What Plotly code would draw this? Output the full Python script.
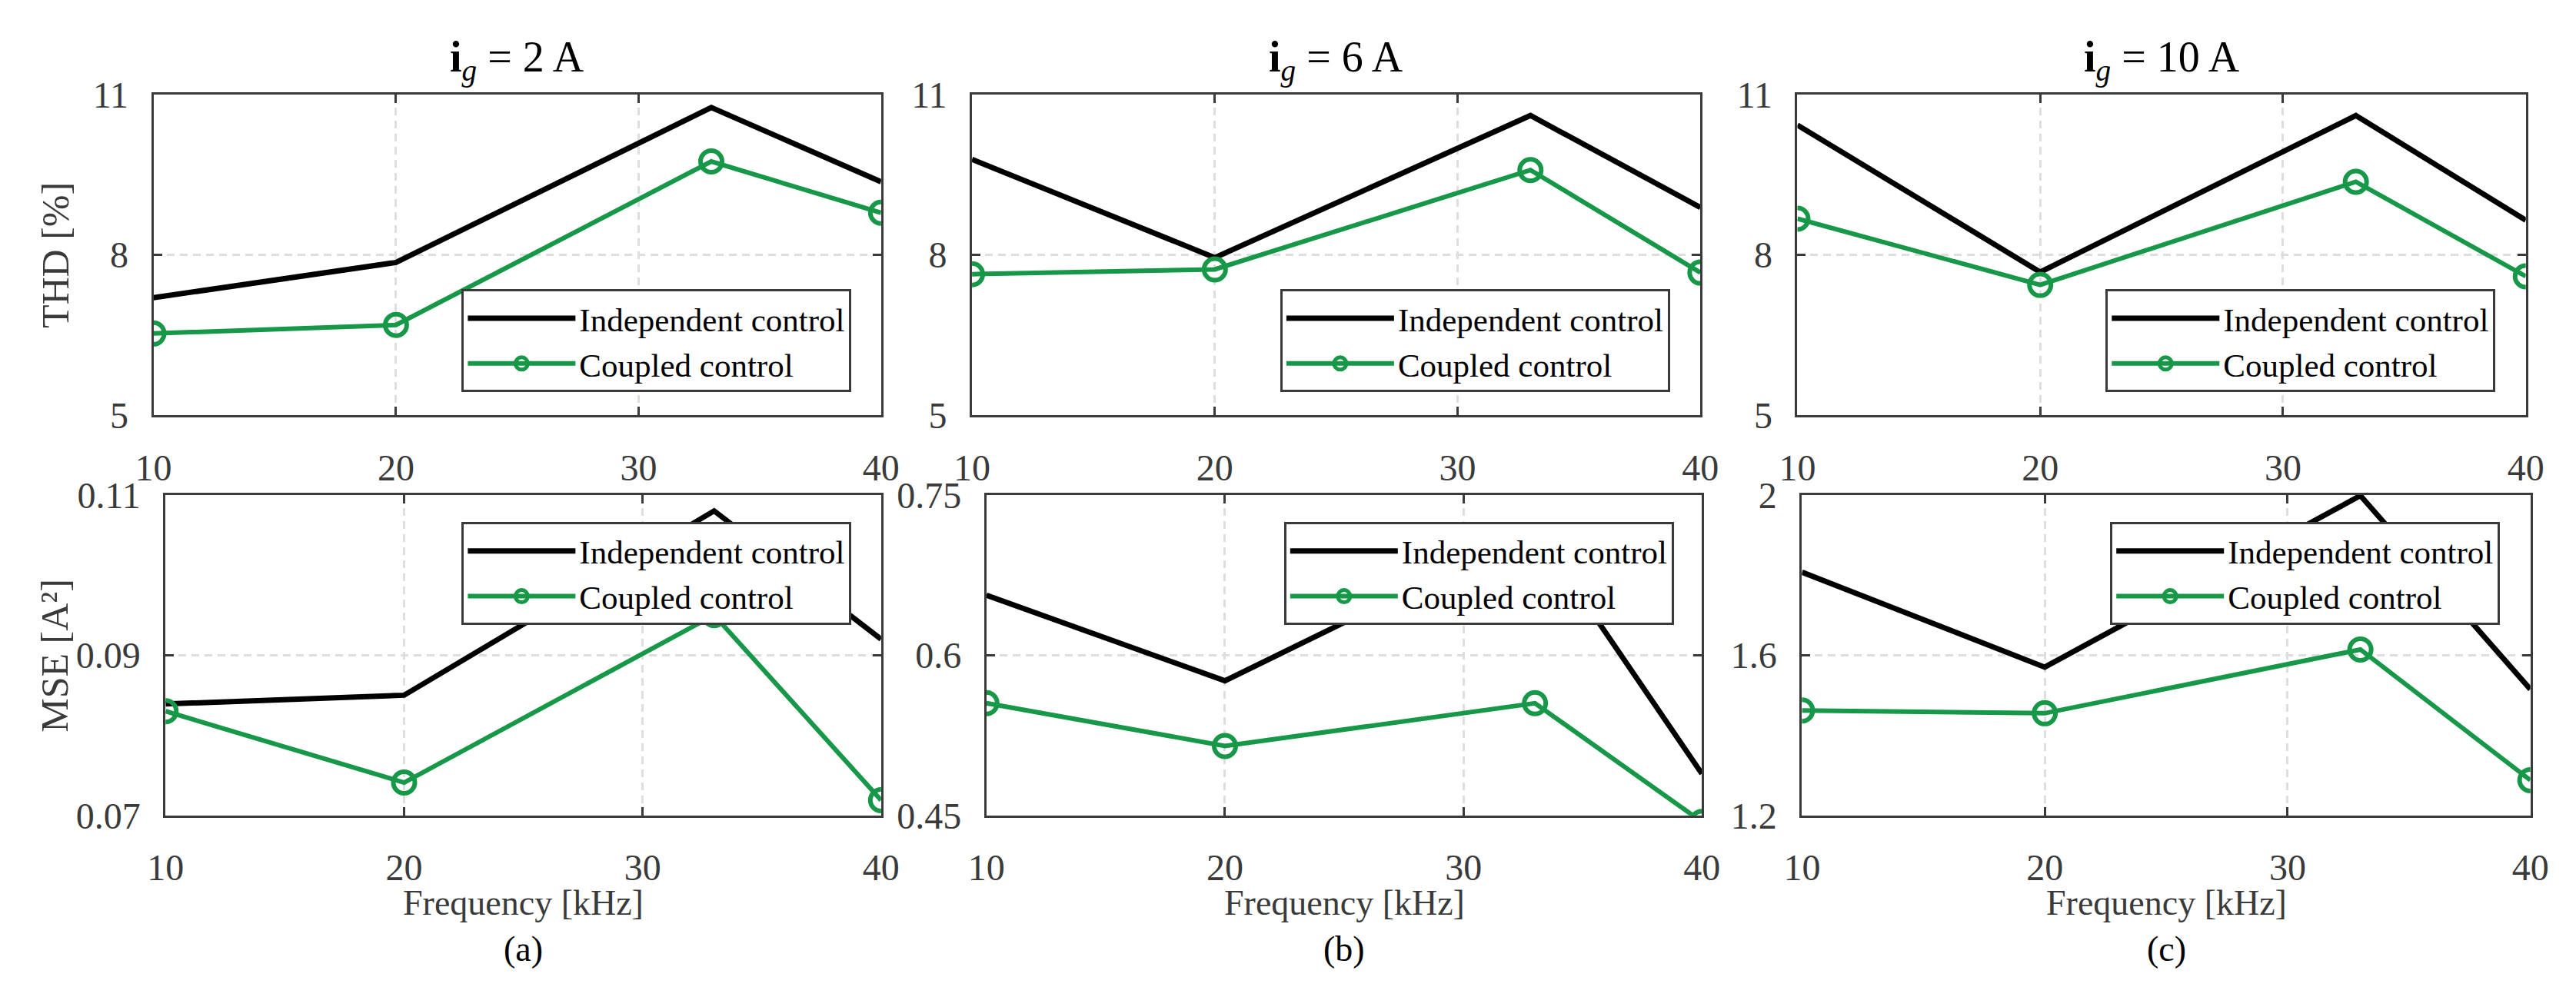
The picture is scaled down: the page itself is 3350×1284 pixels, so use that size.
import plotly.graph_objects as go

# ---------------- data ----------------
freq = [10, 20, 33, 40]
x_ticks = [10, 20, 30, 40]

thd_indep_2A = [7.20, 7.86, 10.76, 9.37]
thd_coup_2A = [6.53, 6.69, 9.75, 8.79]
thd_indep_6A = [9.79, 7.95, 10.61, 8.89]
thd_coup_6A = [7.64, 7.73, 9.59, 7.67]
thd_indep_10A = [10.43, 7.68, 10.61, 8.65]
thd_coup_10A = [8.68, 7.44, 9.37, 7.60]

mse_indep_2A = [0.0839, 0.0850, 0.1080, 0.0920]
mse_coup_2A = [0.0830, 0.0741, 0.0950, 0.0719]
mse_indep_6A = [0.656, 0.576, 0.718, 0.489]
mse_coup_6A = [0.555, 0.515, 0.555, 0.444]
mse_indep_10A = [1.807, 1.570, 1.998, 1.515]
mse_coup_10A = [1.462, 1.455, 1.614, 1.288]

thd_ticks = [5, 8, 11]
mse_ticks_2A = [0.07, 0.09, 0.11]
mse_ticks_6A = [0.45, 0.6, 0.75]
mse_ticks_10A = [1.2, 1.6, 2]

currents = ["2", "6", "10"]
panel_labels = ["(a)", "(b)", "(c)"]
series_names = ["Independent control", "Coupled control"]
ylabels = ["THD [%]", "MSE [A²]"]
xlabel = "Frequency [kHz]"

# ---------------- style ----------------
W, H = 3350, 1284
FONT = "Liberation Serif, Times New Roman, serif"
BLACK = "#000000"
GREEN = "#179848"
AXC = "#3a3a3a"
TXT = "#3a3a3a"
GRID = "#dedede"

top_y = [1 - 528 / H, 1 - 93 / H]
bot_y = [1 - 1071 / H, 1 - 636 / H]
x_doms_top = [[170 / W, 1130 / W], [1250 / W, 2211 / W], [2339 / W, 3300 / W]]
x_doms_bot = [[186 / W, 1130 / W], [1269 / W, 2213 / W], [2345 / W, 3306 / W]]

panels = [
    (0, 0, thd_indep_2A, thd_coup_2A, thd_ticks),
    (0, 1, thd_indep_6A, thd_coup_6A, thd_ticks),
    (0, 2, thd_indep_10A, thd_coup_10A, thd_ticks),
    (1, 0, mse_indep_2A, mse_coup_2A, mse_ticks_2A),
    (1, 1, mse_indep_6A, mse_coup_6A, mse_ticks_6A),
    (1, 2, mse_indep_10A, mse_coup_10A, mse_ticks_10A),
]

legend_pos_top = [(1091 / W, 1 - 497 / H), (2171 / W, 1 - 497 / H), (3260 / W, 1 - 497 / H)]
legend_pos_bot = [(1091 / W, 1 - 673 / H), (2176 / W, 1 - 673 / H), (3266 / W, 1 - 673 / H)]

fig = go.Figure()
layout = dict(
    width=W, height=H,
    margin=dict(l=0, r=0, t=0, b=0),
    paper_bgcolor="white", plot_bgcolor="white",
    font=dict(family=FONT, color=TXT, size=46),
    showlegend=True,
)

annotations = []

for i, (row, col, indep, coup, yt) in enumerate(panels):
    k = i + 1
    xs = "" if k == 1 else str(k)
    xref, yref = "x" + xs, "y" + xs
    legname = "legend" + xs
    fig.add_trace(go.Scatter(
        x=freq, y=indep, mode="lines", name=series_names[0],
        line=dict(color=BLACK, width=7),
        xaxis=xref, yaxis=yref, legend=legname, showlegend=True,
    ))
    fig.add_trace(go.Scatter(
        x=freq, y=coup, mode="lines+markers", name=series_names[1],
        line=dict(color=GREEN, width=6),
        marker=dict(symbol="circle-open", size=28, color=GREEN, line=dict(width=6, color=GREEN)),
        xaxis=xref, yaxis=yref, legend=legname, showlegend=True,
    ))
    xd = x_doms_top[col] if row == 0 else x_doms_bot[col]
    yd = top_y if row == 0 else bot_y
    common = dict(
        showline=True, linecolor=AXC, linewidth=3, mirror="ticks",
        ticks="inside", ticklen=11, tickwidth=3, tickcolor=AXC,
        showgrid=True, gridcolor=GRID, gridwidth=3, griddash="10px,7px",
        zeroline=False,
        tickfont=dict(family=FONT, size=48, color=TXT),
    )
    layout["xaxis" + xs] = dict(
        domain=xd, anchor=yref, range=[10, 40],
        tickmode="array", tickvals=x_ticks, ticktext=[str(v) for v in x_ticks],
        ticklabelstandoff=24, **common,
    )
    layout["yaxis" + xs] = dict(
        domain=yd, anchor=xref, range=[yt[0], yt[-1]],
        tickmode="array", tickvals=yt, ticktext=[f"{v:g}" for v in yt],
        ticklabelstandoff=20, **common,
    )
    lx, ly = (legend_pos_top if row == 0 else legend_pos_bot)[col]
    layout[legname] = dict(
        x=lx, y=ly, xanchor="right", yanchor="bottom" if row == 0 else "top",
        xref="paper", yref="paper",
        bgcolor="white", bordercolor=AXC, borderwidth=3,
        font=dict(family=FONT, size=43, color=BLACK),
        itemwidth=140, tracegroupgap=0,
    )

# titles, x labels and panel labels
for col in range(3):
    xc = (x_doms_top[col][0] + x_doms_top[col][1]) / 2
    annotations.append(dict(
        text=f"<b>i</b><sub><i>g</i></sub> = {currents[col]} A",
        x=xc, y=1 - 46 / H, xref="paper", yref="paper",
        xanchor="center", yanchor="middle", showarrow=False,
        font=dict(family=FONT, size=56, color=BLACK),
    ))
    xcb = (x_doms_bot[col][0] + x_doms_bot[col][1]) / 2
    annotations.append(dict(
        text=xlabel, x=xcb, y=1 - 1190 / H, xref="paper", yref="paper",
        xanchor="center", yanchor="middle", showarrow=False,
        font=dict(family=FONT, size=46, color=TXT),
    ))
    annotations.append(dict(
        text=panel_labels[col], x=xcb, y=1 - 1252 / H, xref="paper", yref="paper",
        xanchor="center", yanchor="middle", showarrow=False,
        font=dict(family=FONT, size=46, color=BLACK),
    ))

# y labels
annotations.append(dict(
    text=ylabels[0], x=40 / W, y=(top_y[0] + top_y[1]) / 2, xref="paper", yref="paper",
    xanchor="center", yanchor="middle", showarrow=False, textangle=-90,
    font=dict(family=FONT, size=50, color=TXT),
))
annotations.append(dict(
    text=ylabels[1], x=40 / W, y=(bot_y[0] + bot_y[1]) / 2, xref="paper", yref="paper",
    xanchor="center", yanchor="middle", showarrow=False, textangle=-90,
    font=dict(family=FONT, size=50, color=TXT),
))

layout["annotations"] = annotations
fig.update_layout(**layout)
fig.write_html("out.html")
